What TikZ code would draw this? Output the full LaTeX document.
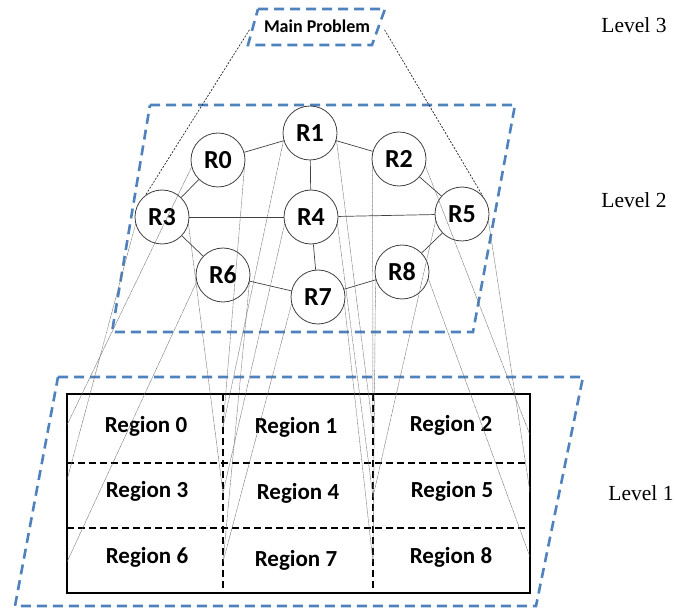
\documentclass[tikz,border=0pt]{standalone}
\usepackage{fontspec}
\setmainfont{Liberation Serif}
\newfontfamily\calfont{Carlito}
\definecolor{myblue}{RGB}{79,129,189}
\begin{document}
\begin{tikzpicture}[x=1pt,y=-1pt,
  bluebox/.style={draw=myblue, line width=2.6pt, dash pattern=on 10pt off 6pt},
  rnode/.style={circle, draw=black!75, line width=0.8pt, fill=white, minimum size=54pt, inner sep=0pt,
    font=\calfont\bfseries\fontsize{26}{26}\selectfont},
  region/.style={anchor=base, font=\calfont\bfseries\fontsize{23}{23}\selectfont},
  lvl/.style={anchor=base, font=\fontsize{21.5}{21.5}\selectfont},
  gedge/.style={draw=black!75, line width=0.7pt},
  proj/.style={draw=black!60, line width=0.45pt, dash pattern=on 0.8pt off 0.5pt},
  topline/.style={draw=black!85, line width=0.7pt, dash pattern=on 2pt off 1.5pt},
  griddash/.style={draw=black, line width=1.5pt, dash pattern=on 7pt off 4pt}]
\useasboundingbox (0,0) rectangle (675,612);

% level boxes
\draw[bluebox] (258,9) -- (385,9) -- (372,45) -- (248,45) -- cycle;
\draw[bluebox] (150,105) -- (515,105) -- (473,332) -- (112,332) -- cycle;
\draw[bluebox] (58,377) -- (583,377) -- (536,606) -- (15,606) -- cycle;

% level labels
\node[lvl] (lv3) at (634,33) {Level 3};
\node[lvl] (lv2) at (634,208) {Level 2};
\node[lvl] (lv1) at (641,500) {Level 1};

% main problem
\node[anchor=base, font=\calfont\bfseries\fontsize{18}{18}\selectfont] (mp) at (317,33) {Main Problem};

% grid
\draw[griddash] (223,394) -- (223,593);
\draw[griddash] (373,394) -- (373,593);
\draw[griddash] (67,463) -- (530,463);
\draw[griddash] (67,528) -- (530,528);
\draw[line width=1.8pt] (67,394) rectangle (530,593);

\node[region] (g0) at (146,432) {Region 0};
\node[region] (g1) at (296,433) {Region 1};
\node[region] (g2) at (451,431) {Region 2};
\node[region] (g3) at (147,497) {Region 3};
\node[region] (g4) at (298,499) {Region 4};
\node[region] (g5) at (452,497) {Region 5};
\node[region] (g6) at (147,563) {Region 6};
\node[region] (g7) at (296,566) {Region 7};
\node[region] (g8) at (451,563) {Region 8};

% projection end points on the grid
\coordinate (p00) at (67,425);  \coordinate (p01) at (223,427);
\coordinate (p02) at (373,430); \coordinate (p03) at (530,435);
\coordinate (p10) at (67,480);  \coordinate (p11) at (223,493);
\coordinate (p12) at (373,497); \coordinate (p13) at (530,492);
\coordinate (p20) at (67,562);  \coordinate (p21) at (223,562);
\coordinate (p22) at (373,562); \coordinate (p23) at (530,557);

% level 2 circles
\node[rnode] (R0) at (218,160) {R0};
\node[rnode] (R1) at (310,133) {R1};
\node[rnode] (R2) at (399,159) {R2};
\node[rnode] (R3) at (162,217) {R3};
\node[rnode] (R4) at (311,217) {R4};
\node[rnode] (R5) at (462,214) {R5};
\node[rnode] (R6) at (223,275) {R6};
\node[rnode] (R7) at (318,297) {R7};
\node[rnode] (R8) at (402,272) {R8};

% graph edges
\draw[gedge] (R0) -- (R1);
\draw[gedge] (R1) -- (R2);
\draw[gedge] (R3) -- (R4);
\draw[gedge] (R4) -- (R5);
\draw[gedge] (R6) -- (R7);
\draw[gedge] (R7) -- (R8);
\draw[gedge] (R0) -- (R3);
\draw[gedge] (R3) -- (R6);
\draw[gedge] (R1) -- (R4);
\draw[gedge] (R4) -- (R7);
\draw[gedge] (R2) -- (R5);
\draw[gedge] (R5) -- (R8);

% projections level 2 -> level 1
\foreach \i in {0,...,8}{
  \pgfmathtruncatemacro\rrow{\i/3}
  \pgfmathtruncatemacro\ccol{mod(\i,3)}
  \pgfmathtruncatemacro\ccolb{\ccol+1}
  \draw[proj] (R\i.195) -- (p\rrow\ccol);
  \draw[proj] (R\i.-15) -- (p\rrow\ccolb);
}

% projections level 3 -> level 2
\draw[topline] ([xshift=-11pt,yshift=-3pt]mp.west) -- (R3.127);
\draw[topline] ([xshift=11pt,yshift=-3pt]mp.east) -- (R5.40);
\end{tikzpicture}
\end{document}
